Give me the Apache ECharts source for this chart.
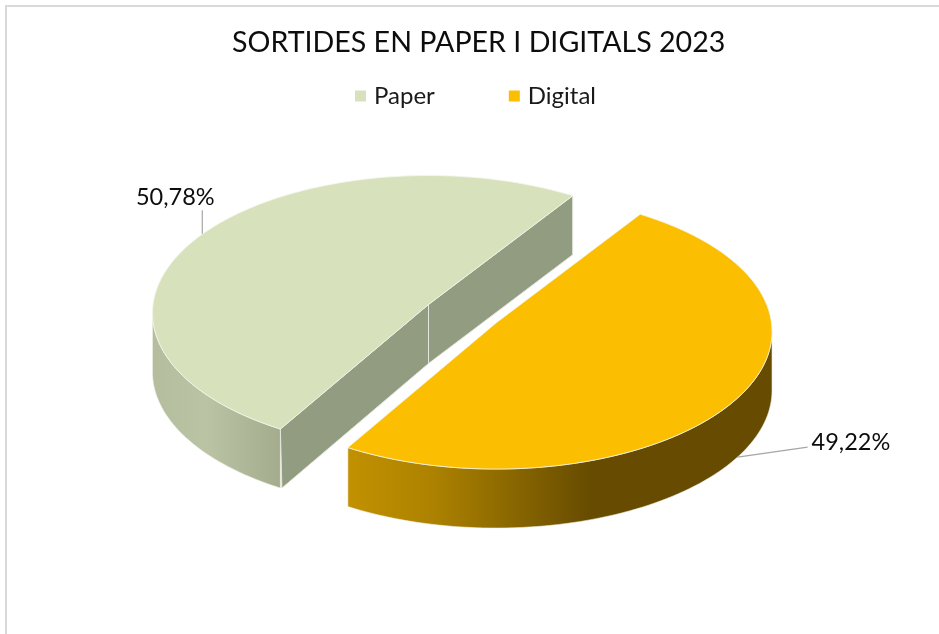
<!DOCTYPE html>
<html>
<head>
<meta charset="utf-8">
<style>html,body{margin:0;padding:0;background:#fff}#c{width:939px;height:634px}</style>
<script src="https://cdn.jsdelivr.net/npm/echarts@6/dist/echarts.min.js"></script>
</head>
<body>
<div id="c"></div>
<script>
const titleText = 'SORTIDES EN PAPER I DIGITALS 2023';
const categories = ['Paper', 'Digital'];
const shares = [50.78, 49.22];
const firstSliceAngle = 56.6;

// Projection of the pie disc (a tilted circle seen in perspective)
const R = 275.5, S = 137, K = 0.062, DEPTH = 59;
const apexes = [[428.5, 304.5], [496, 323]];
const topColors = ['#D7E2BC', '#FBBE00'];
const faceColors = ['#929C80', '#7A5C00'];
const wallStops = [
  [[0, '#B4BE9E'], [0.42, '#BAC4A5'], [1, '#A3AD8D']],
  [[0, '#C29100'], [0.2, '#AD8200'], [0.57, '#674C00'], [1, '#664B00']]
];
const labelOffsets = [[-27, -37], [70, -10]];

function project(apex, deg, drop) {
  const a = deg * Math.PI / 180, X = Math.cos(a), Y = Math.sin(a), w = 1 + K * Y;
  return [apex[0] + R * X / w, apex[1] - S * Y / w + (drop || 0)];
}
function arc(apex, from, to, drop) {
  const pts = [], n = Math.max(2, Math.ceil(Math.abs(to - from) / 1.5));
  for (let i = 0; i <= n; i++) pts.push(project(apex, from + (to - from) * i / n, drop));
  return pts;
}

const total = shares.reduce((a, b) => a + b, 0);
const wallFrom = 180 + Math.asin(K) * 180 / Math.PI;
const wallTo = 360 - Math.asin(K) * 180 / Math.PI;

function sliceRange(i) {
  let start = firstSliceAngle;
  for (let j = 0; j < i; j++) start += shares[j] / total * 360;
  return [start, start + shares[i] / total * 360];
}

function renderSlice(i) {
  return function (params, api) {
    const apex = apexes[i];
    const [a0, a1] = sliceRange(i);
    const mid = (a0 + a1) / 2;
    const children = [];
    const line = '#F4F6EE';

    // leader line and percentage label
    const facing = Math.sin(mid * Math.PI / 180) < 0;
    const anchor = project(apex, mid, facing ? DEPTH : 0);
    const off = labelOffsets[i];
    const elbow = facing ? [anchor[0] + off[0], anchor[1] + off[1]] : [anchor[0], anchor[1] + off[1] + 13];
    children.push({
      type: 'polyline', shape: { points: [anchor, elbow] },
      style: { fill: 'none', stroke: '#A6A6A6', lineWidth: 1.2 }
    });

    // outer wall: the part of the rim that faces the viewer
    [[a0, a1], [a0 - 360, a1 - 360]].forEach(function (r) {
      const from = Math.max(r[0], wallFrom), to = Math.min(r[1], wallTo);
      if (to > from) {
        const pts = arc(apex, from, to, 0).concat(arc(apex, to, from, DEPTH));
        children.push({
          type: 'polygon', shape: { points: pts },
          style: {
            fill: new echarts.graphic.LinearGradient(0, 0, 1, 0,
              wallStops[i].map(s => ({ offset: s[0], color: s[1] }))),
            stroke: '#F2F2EA', lineWidth: 0.6
          }
        });
      }
    });

    // cut faces, only where the slice's back opens to the viewer
    if (Math.sin(mid * Math.PI / 180) > 0) {
      [a0, a1].forEach(function (ang) {
        const p = project(apex, ang);
        children.push({
          type: 'polygon',
          shape: { points: [apex, p, [p[0] + (p[0] < apex[0] ? 1.5 : 0), p[1] + DEPTH], [apex[0], apex[1] + DEPTH]] },
          style: { fill: faceColors[i], stroke: '#E4E6DE', lineWidth: 1 }
        });
      });
    }

    // top surface
    children.push({
      type: 'polygon',
      shape: { points: [apex].concat(arc(apex, a0, a1, 0)) },
      style: { fill: topColors[i], stroke: line, lineWidth: 0.8 }
    });

    children.push({
      type: 'text',
      x: facing ? elbow[0] + 4 : anchor[0] + off[0],
      y: facing ? elbow[1] - 5 : anchor[1] + off[1],
      style: {
        text: api.value(0).toFixed(2).replace('.', ',') + '%',
        fontFamily: 'Lato', fontSize: 23.5, fill: '#0D0D0D',
        align: facing ? 'left' : 'center', verticalAlign: 'middle'
      }
    });
    return { type: 'group', children: children };
  };
}

const chart = echarts.init(document.getElementById('c'));
chart.setOption({
  animation: false,
  backgroundColor: '#fff',
  title: {
    text: titleText, left: 227, top: 23,
    textStyle: { fontFamily: 'Lato', fontSize: 28.6, fontWeight: 'normal', color: '#0D0D0D' }
  },
  legend: {
    left: 350, top: 79, itemWidth: 11, itemHeight: 11, itemGap: 74, icon: 'rect',
    textStyle: { fontFamily: 'Lato', fontSize: 24, color: '#1A1A1A', padding: [0, 0, 0, 3] },
    data: categories
  },
  graphic: [{
    type: 'rect', silent: true, z: -1,
    shape: { x: 6, y: 6, width: 960, height: 660 },
    style: { fill: '#fff', stroke: '#D9D9D9', lineWidth: 2 }
  }],
  series: categories.map(function (name, i) {
    return {
      type: 'custom', name: name, coordinateSystem: 'none',
      silent: true, clip: false,
      itemStyle: { color: topColors[i] },
      renderItem: renderSlice(i),
      data: [[shares[i]]]
    };
  })
});
</script>
</body>
</html>
